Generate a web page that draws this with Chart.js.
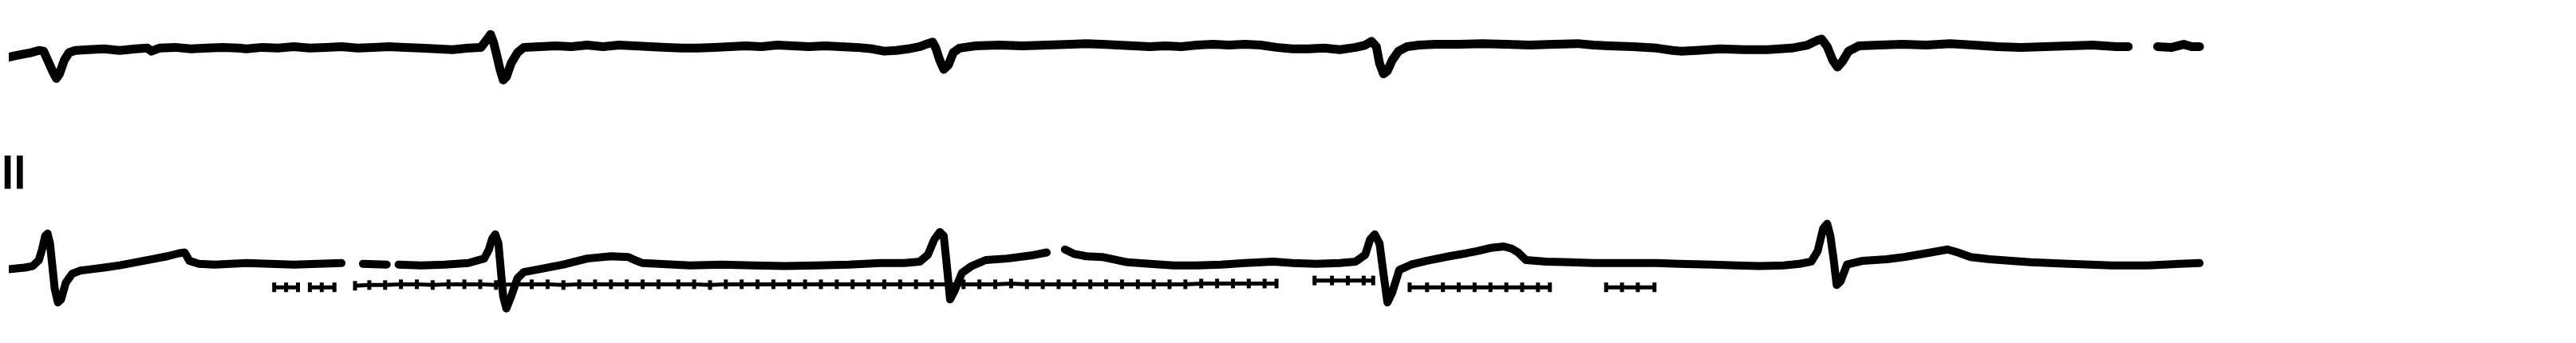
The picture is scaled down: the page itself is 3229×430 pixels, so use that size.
<!DOCTYPE html>
<html>
<head>
<meta charset="utf-8">
<script src="https://cdn.jsdelivr.net/npm/chart.js@4/dist/chart.umd.min.js"></script>
<style>
  html, body { margin: 0; padding: 0; background: #fff; }
  #wrap { width: 3229px; height: 430px; position: relative; }
</style>
</head>
<body>
<div id="wrap"><canvas id="ecg"></canvas></div>
<script>
// time in ms, amplitude in microvolts
const leadLabel = "II";

const topTime = [0,8,18,28,38,44,50,56,60,64,70,76,84,100,120,140,160,175,180,190,210,230,250,270,290,300,320,340,360,380,400,420,440,460,480,500,520,540,560,580,596,604,608,612,616,620,624,628,634,642,650,670,690,710,730,750,770,790,810,830,850,870,890,910,930,950,970,990,1010,1030,1050,1070,1090,1105,1120,1135,1150,1160,1166,1170,1175,1180,1186,1192,1200,1220,1250,1280,1310,1340,1360,1380,1400,1420,1440,1460,1480,1500,1520,1540,1560,1580,1600,1620,1640,1660,1680,1700,1712,1720,1726,1730,1735,1740,1746,1754,1765,1780,1800,1830,1860,1890,1920,1950,1980,2000,2020,2050,2080,2100,2110,2130,2160,2190,2220,2250,2270,2282,2288,2295,2302,2308,2314,2322,2335,2360,2390,2420,2450,2480,2510,2540,2570,2600,2630,2660,2675,2693,2712,2730,2745,2755,2765];
const topValues = [-120,-100,-80,-60,-30,-40,-180,-320,-400,-340,-160,-60,-30,-20,-10,-30,-10,0,-40,0,10,-10,0,10,0,-10,10,0,20,0,10,20,0,10,20,10,0,-10,-20,0,10,120,180,70,-100,-280,-420,-380,-200,-60,10,20,30,20,40,20,40,30,20,10,0,0,10,20,30,20,40,30,20,30,20,10,-10,-40,-30,-10,20,60,80,0,-160,-280,-220,-60,0,30,40,30,40,50,60,50,40,30,20,30,20,40,50,40,50,40,10,-10,-10,0,-20,10,40,90,20,-200,-340,-300,-160,-40,20,40,50,50,60,50,40,50,60,40,30,20,0,-30,-40,-30,-10,-20,-20,0,40,100,120,20,-160,-250,-180,-40,30,40,50,40,60,40,20,10,20,30,40,20,20,null,20,10,50,20,20];

const botTime = [0,10,20,30,38,42,46,49,52,55,58,62,66,72,80,90,105,120,140,160,180,200,215,222,228,240,260,280,300,330,360,390,420,434,447,477,485,492,520,550,580,600,606,610,614,618,621,624,628,634,642,650,670,700,730,760,782,790,800,820,860,900,940,980,1020,1060,1100,1130,1150,1160,1168,1175,1180,1184,1188,1194,1203,1215,1233,1260,1290,1310,1320,1333,1345,1360,1380,1412,1440,1470,1500,1530,1560,1596,1620,1650,1680,1700,1712,1718,1724,1730,1735,1740,1746,1755,1770,1790,1818,1840,1854,1870,1887,1897,1905,1915,1940,1970,2000,2040,2080,2108,2150,2180,2209,2240,2260,2275,2283,2290,2295,2299,2303,2307,2312,2320,2340,2370,2392,2420,2447,2460,2476,2500,2552,2600,2654,2700,2740,2765];
const botValues = [-60,-50,-40,-20,60,200,380,410,280,-20,-320,-500,-460,-240,-120,-80,-60,-40,-10,30,70,110,150,160,50,10,0,10,20,10,0,10,20,null,10,0,null,0,-10,0,20,80,200,340,400,280,-70,-420,-580,-420,-180,-100,-60,0,80,110,100,60,20,10,-10,0,-10,-20,-10,0,20,20,40,130,330,430,380,-20,-460,-340,-110,-20,60,80,120,160,null,200,140,110,100,30,10,-10,-10,0,20,40,20,10,20,40,130,330,400,280,-120,-500,-370,-70,0,50,110,150,180,220,240,210,160,60,40,30,20,20,20,10,0,-10,-20,-10,10,40,180,480,540,380,80,-270,-220,0,50,70,100,150,200,160,100,70,30,10,-10,-10,10,20];

// faint second trace under lead II (tick-marked baseline)
const refTime = [335,350,365,372,380,395,411,424,437,455,475,495,515,535,555,575,595,615,640,660,680,700,720,740,760,780,800,820,845,865,885,905,925,945,965,985,1005,1025,1045,1065,1085,1105,1125,1145,1165,1185,1205,1225,1245,1265,1285,1305,1325,1345,1365,1385,1405,1425,1445,1465,1485,1505,1525,1545,1565,1585,1600,1624,1648,1670,1690,1710,1722,1745,1768,1790,1810,1830,1850,1870,1890,1910,1930,1945,1980,2016,2036,2056,2077];
const refValues = [-300,-300,-300,null,-300,-300,-300,null,-280,-270,-270,-260,-260,-270,-260,-260,-260,-270,-260,-260,-260,-270,-260,-260,-260,-260,-260,-260,-260,-260,-270,-260,-260,-260,-260,-260,-260,-260,-260,-260,-260,-260,-260,-260,-260,-260,-260,-260,-260,-250,-260,-260,-260,-260,-260,-260,-260,-260,-260,-260,-260,-250,-250,-250,-250,-250,-250,null,-210,-210,-210,-210,-210,null,-300,-300,-300,-300,-300,-300,-300,-300,-300,-300,null,-300,-300,-300,-300];

function pts(xs, ys) {
  return xs.map((x, i) => ({ x: x, y: ys[i] }));
}

const labelPlugin = {
  id: 'leadLabel',
  afterDraw(chart) {
    const ctx = chart.ctx;
    ctx.save();
    ctx.translate(2, 237);
    ctx.scale(0.85, 1.2);
    ctx.fillStyle = '#000';
    ctx.font = 'bold 48px "DejaVu Sans"';
    ctx.textBaseline = 'alphabetic';
    ctx.fillText(leadLabel, 0, 0);
    ctx.restore();
  }
};

const ctx = document.getElementById('ecg').getContext('2d');
new Chart(ctx, {
  type: 'line',
  data: {
    datasets: [
      {
        data: pts(topTime, topValues),
        yAxisID: 'yTop',
        borderColor: '#000',
        borderWidth: 11,
        pointRadius: 0,
        tension: 0,
        spanGaps: false,
        borderJoinStyle: 'round',
        borderCapStyle: 'round'
      },
      {
        data: pts(botTime, botValues),
        yAxisID: 'yBot',
        borderColor: '#000',
        borderWidth: 10,
        pointRadius: 0,
        tension: 0,
        spanGaps: false,
        borderJoinStyle: 'round',
        borderCapStyle: 'round'
      },
      {
        data: pts(refTime, refValues),
        yAxisID: 'yBot',
        borderColor: '#000',
        borderWidth: 5,
        pointStyle: 'line',
        rotation: 90,
        pointRadius: 6,
        pointBorderWidth: 5,
        pointBorderColor: '#000',
        tension: 0,
        spanGaps: false
      }
    ]
  },
  options: {
    responsive: true,
    maintainAspectRatio: false,
    animation: false,
    layout: { padding: 0 },
    plugins: {
      legend: { display: false },
      tooltip: { enabled: false },
      title: { display: false }
    },
    scales: {
      x: { type: 'linear', min: 0, max: 3229, display: false },
      yTop: { type: 'linear', min: -3780, max: 520, display: false },
      yBot: { type: 'linear', min: -920, max: 3380, display: false }
    }
  },
  plugins: [labelPlugin]
});
</script>
</body>
</html>
